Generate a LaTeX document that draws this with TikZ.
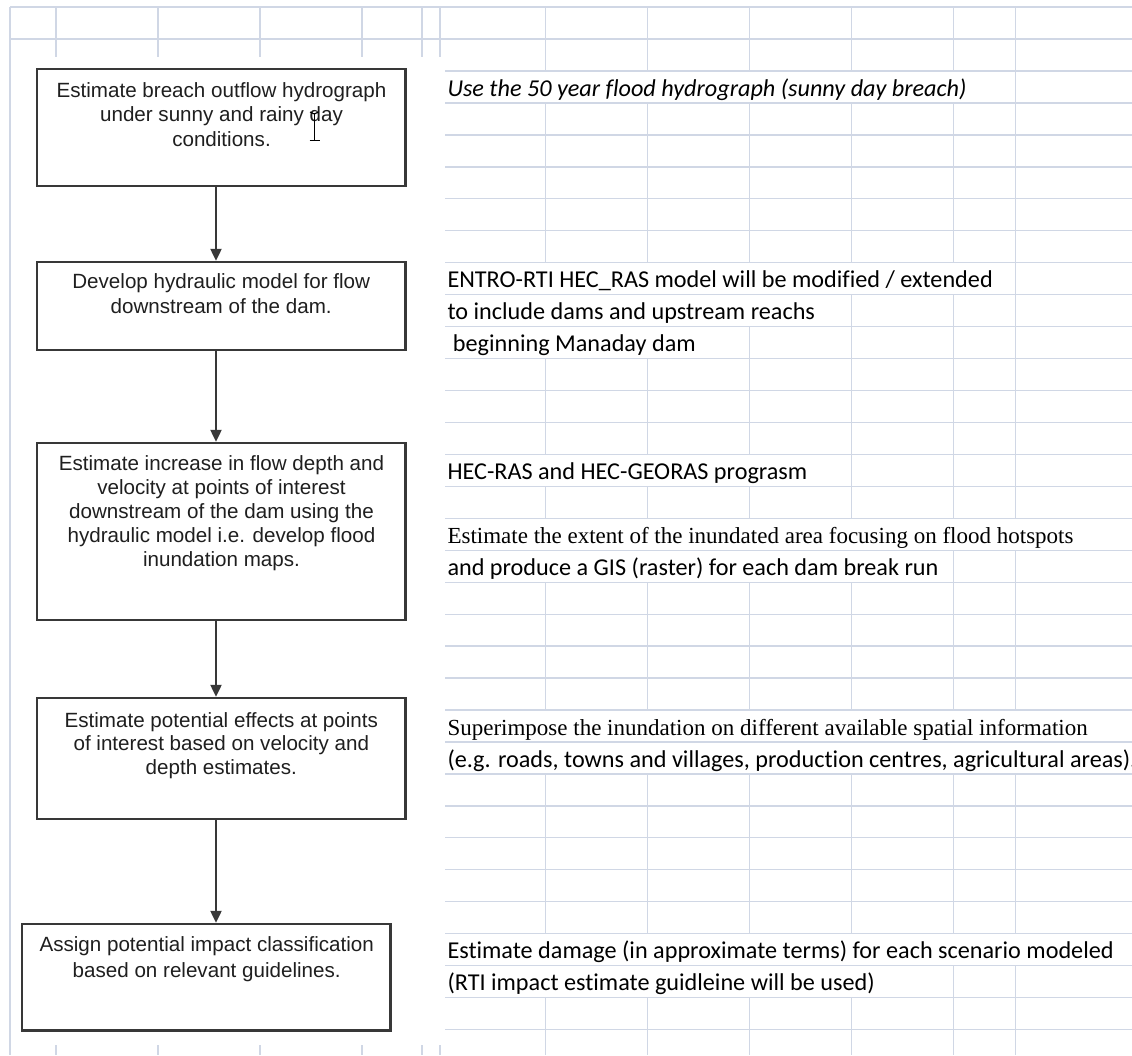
\documentclass[tikz,border=0pt]{standalone}
\usepackage{fontspec}
\setmainfont[Ligatures=CommonOff]{Liberation Sans}
\newfontfamily\calibri[Ligatures=CommonOff]{Carlito}
\newfontfamily\timesf[Ligatures=CommonOff]{Liberation Serif}
\usetikzlibrary{arrows.meta}
\definecolor{gridc}{HTML}{D0D7E5}
\definecolor{boxc}{HTML}{383838}
\definecolor{txtc}{HTML}{1F1F1F}
\begin{document}
\begin{tikzpicture}[x=1pt,y=-1pt,
  gridline/.style={draw=gridc,line width=1.3pt},
  stepbox/.style={draw=boxc,line width=2.4pt,fill=white,rectangle,inner sep=0pt,minimum width=368.5pt},
  boxtext/.style={anchor=north,align=center,inner sep=0pt,text=txtc},
  flow/.style={draw=boxc,line width=2.2pt,-{Triangle[length=12pt,width=11pt]}},
  celltext/.style={anchor=base west,inner sep=0pt,font=\calibri\fontsize{24.2}{28}\selectfont},
  cellital/.style={anchor=base west,inner sep=0pt,font=\calibri\itshape\fontsize{24.2}{28}\selectfont},
  celltimes/.style={anchor=base west,inner sep=0pt,font=\timesf\fontsize{23}{28}\selectfont}
]
\useasboundingbox[fill=white] (0,0) rectangle (1132,1055);

% ---- spreadsheet grid ----
\draw[gridline] (10,7) -- (1132,7);
\draw[gridline] (10,39) -- (1132,39);
\draw[gridline] (10,7) -- (10,1055);
\foreach \x in {56,158,260,362,422,440}{
  \draw[gridline] (\x,7) -- (\x,57);
  \draw[gridline] (\x,1045) -- (\x,1055);
}
\foreach \x in {545.5,647.5,749.5,851.5,953.5,1015.5}{
  \draw[gridline] (\x,7) -- (\x,71);
  \draw[gridline] (\x,1029.5) -- (\x,1055);
}
\foreach \k in {0,...,30}{
  \draw[gridline] (445,{71+31.95*\k}) -- (1132,{71+31.95*\k});
}
\foreach \k in {1,2,3,4,5,9,10,11,13,16,17,18,19,22,23,24,25,26,29}{
  \foreach \x in {545.5,647.5,749.5,851.5,953.5,1015.5}{
    \draw[gridline] (\x,{71+31.95*\k}) -- (\x,{71+31.95*(\k+1)});
  }
}
\foreach \k/\xs in {0/{1015.5},6/{1015.5},7/{851.5,953.5,1015.5},8/{749.5,851.5,953.5,1015.5},12/{851.5,953.5,1015.5},15/{953.5,1015.5},28/{953.5,1015.5}}{
  \foreach \x in \xs{
    \draw[gridline] (\x,{71+31.95*\k}) -- (\x,{71+31.95*(\k+1)});
  }
}

% ---- flowchart boxes ----
\node[stepbox,minimum height=117pt] (b1) at (221.25,127.5) {};
\node[stepbox,minimum height=88pt] (b2) at (221.25,306) {};
\node[stepbox,minimum height=177pt] (b3) at (221.25,531.5) {};
\node[stepbox,minimum height=121pt] (b4) at (221.25,758.5) {};
\node[stepbox,minimum height=106.5pt] (b5) at (206.25,977.25) {};

\node[boxtext,font=\fontsize{20.6}{24.5}\selectfont] (t1) at (221.5,82) {Estimate breach outflow hydrograph\\under sunny and rainy day\\conditions.};
\node[boxtext,font=\fontsize{20.6}{25}\selectfont] (t2) at (221.2,273.5) {Develop hydraulic model for flow\\downstream of the dam.};
\node[boxtext,font=\fontsize{20.6}{23.8}\selectfont] (t3) at (221.5,455.7) {Estimate increase in flow depth and\\velocity at points of interest\\downstream of the dam using the\\hydraulic model i.e. develop flood\\inundation maps.};
\node[boxtext,font=\fontsize{20.6}{23.5}\selectfont] (t4) at (221.3,712.3) {Estimate potential effects at points\\of interest based on velocity and\\depth estimates.};
\node[boxtext,font=\fontsize{20.6}{25.6}\selectfont] (t5) at (206.7,936.7) {Assign potential impact classification\\based on relevant guidelines.};

% text cursor (I-beam)
\draw[black,line width=1.3pt] (314.3,113) -- (314.3,140);
\draw[black,line width=1.1pt] (310,112) .. controls (312.5,112.5) .. (314.3,114) .. controls (316,112.5) .. (318.5,112);
\draw[black,line width=1.3pt] (309.5,140.5) -- (320,140.5);

% ---- connectors ----
\coordinate (ax) at (216,0);
\draw[flow] (b1.south -| ax) -- (b2.north -| ax);
\draw[flow] (b2.south -| ax) -- (b3.north -| ax);
\draw[flow] (b3.south -| ax) -- (b4.north -| ax);
\draw[flow] (b4.south -| ax) -- (b5.north -| ax);

% ---- spreadsheet notes ----
\node[cellital] (r1) at (447.3,96) {Use the 50 year flood hydrograph (sunny day breach)};
\node[celltext] (r2) at (447.3,287.7) {ENTRO-RTI HEC\_RAS model will be modified / extended};
\node[celltext] (r3) at (447.3,319.6) {to include dams and upstream reachs};
\node[celltext] (r4) at (447.3,351.6) {\ beginning Manaday dam};
\node[celltext] (r5) at (447.3,479.3) {HEC-RAS and HEC-GEORAS prograsm};
\node[celltimes] (r6) at (447.3,543.2) {Estimate the extent of the inundated area focusing on flood hotspots};
\node[celltext] (r7) at (447.3,575.2) {and produce a GIS (raster) for each dam break run};
\node[celltimes] (r8) at (447.3,735) {Superimpose the inundation on different available spatial information};
\node[celltext] (r9) at (447.3,767) {(e.g. roads, towns and villages, production centres, agricultural areas).};
\node[celltext] (r10) at (447.3,958.6) {Estimate damage (in approximate terms) for each scenario modeled};
\node[celltext] (r11) at (447.3,990.5) {(RTI impact estimate guidleine will be used)};
\end{tikzpicture}
\end{document}
